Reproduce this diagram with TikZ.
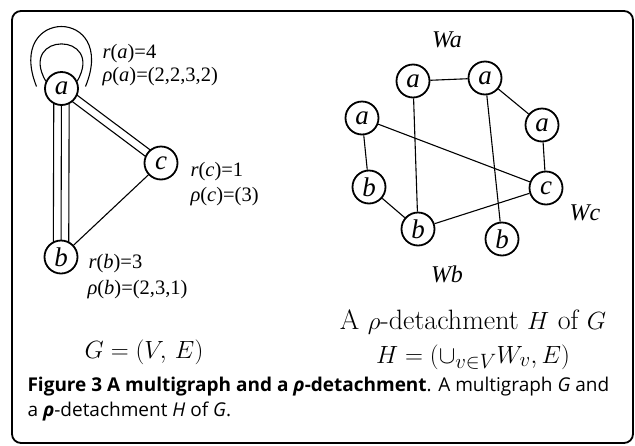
\documentclass[tikz,border=0pt]{standalone}
\usepackage{fontspec}
\setsansfont{Open Sans}
\newfontfamily\tnr{Liberation Serif}
\usetikzlibrary{calc, backgrounds}
\tikzset{
  every picture/.style={line width=1.1pt},
  vtx/.style={circle, draw, fill=white, line width=1.8pt, minimum size=33pt, inner sep=0pt,
    font=\tnr\itshape\fontsize{27}{27}\selectfont},
  edge/.style={draw, line width=1.1pt},
  lbl/.style={anchor=base west, inner sep=0pt, font=\tnr\fontsize{20.5}{20.5}\selectfont},
  wlbl/.style={anchor=base, inner sep=0pt, font=\tnr\itshape\fontsize{24}{24}\selectfont},
  formula/.style={anchor=base, inner sep=0pt, font=\fontsize{28}{28}\selectfont},
  caption/.style={anchor=base west, inner sep=0pt, align=left, font=\sffamily\fontsize{19}{25}\selectfont},
}

\begin{document}
\begin{tikzpicture}[x=1pt, y=1pt]
  \useasboundingbox (0,0) rectangle (635,-445);
  \draw[line width=1.8pt, rounded corners=9pt] (12,-11) rectangle (633,-443);
  % the multigraph G
  \node[vtx] (a) at (61.5,-88.5) {a};
  \node[vtx] (c) at (161,-163) {c};
  \node[vtx] (b) at (61,-257) {b};
  \begin{scope}[on background layer]
    \foreach \s in {-4,4}
      \draw[edge] ($(a.center)!\s pt!90:(c.center)$) -- ($(c.center)!\s pt!-90:(a.center)$);
    \foreach \s in {-7.7,0,7.7}
      \draw[edge] ($(a.center)!\s pt!90:(b.center)$) -- ($(b.center)!\s pt!-90:(a.center)$);
  \end{scope}
  \draw[edge] (c) -- (b);
  % two loops on a
  \draw[edge] ($(a.center)+(-25,2)$) .. controls ($(a.center)+(-57,82)$) and ($(a.center)+(57,82)$) .. ($(a.center)+(24,2)$);
  \draw[edge] (a.155) .. controls ($(a.center)+(-44,57)$) and ($(a.center)+(44,57)$) .. (a.25);
  \node[lbl] (ra) at (102,-58) {\textit{r}(\textit{a})=4};
  \node[lbl] (rhoa) at (102,-81) {\textit{ρ}(\textit{a})=(2,2,3,2)};
  \node[lbl] (rc) at (190,-176) {\textit{r}(\textit{c})=1};
  \node[lbl] (rhoc) at (190,-201) {\textit{ρ}(\textit{c})=(3)};
  \node[lbl] (rb) at (88,-268) {\textit{r}(\textit{b})=3};
  \node[lbl] (rhob) at (87,-294) {\textit{ρ}(\textit{b})=(2,3,1)};
  \node[formula, font=\fontsize{31}{31}\selectfont] (gdef) at (144,-358) {$G=(V,\,E)$};
  % the rho-detachment H
  \foreach \n/\l/\x/\y in {wa1/a/413/-81, wa2/a/485/-78, wa3/a/362/-118, wa4/a/542/-125,
                           wb1/b/369/-187, wb2/b/418/-229, wb3/b/502/-239, wc/c/546/-188}
    \node[vtx] (\n) at (\x,\y) {\l};
  \foreach \u/\v in {wa1/wa2, wa2/wa4, wa4/wc, wa3/wb1, wa3/wc, wa1/wb2, wa2/wb3, wb1/wb2, wb2/wc}
    \draw[edge] (\u) -- (\v);
  \node[wlbl] (la) at (447,-47) {Wa};
  \node[wlbl] (lc) at (585,-220) {Wc};
  \node[wlbl] (lb) at (447,-282) {Wb};
  \node[formula] (hname) at (473,-329) {A $\rho$-detachment $H$ of $G$};
  \node[formula, font=\fontsize{29.5}{29.5}\selectfont] (hdef) at (473,-363) {$H=(\cup_{v\in V}W_v,E)$};
  % caption
  \node[caption] (cap) at (27,-416) {\textbf{Figure 3 A multigraph and a \textit{ρ}-detachment}. A multigraph \textit{G} and\\
    a \textbf{\textit{ρ}}-detachment \textit{H} of \textit{G}.};
\end{tikzpicture}
\end{document}
